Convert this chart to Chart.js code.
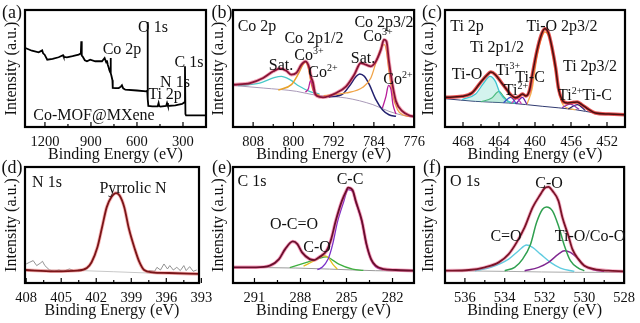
<!DOCTYPE html>
<html>
<head>
<meta charset="utf-8">
<script src="https://cdn.jsdelivr.net/npm/chart.js@4.4.1/dist/chart.umd.min.js"></script>
<style>
  body { margin: 0; width: 640px; height: 323px; background: #fff; position: relative; overflow: hidden; font-family: "Liberation Serif", serif; }
  canvas { position: absolute; }
  .lb { position: absolute; font-size: 16px; line-height: 1; white-space: nowrap; color: #111; transform: translate(-50%, -50%); }
  .lb sup { font-size: 10px; vertical-align: 6px; line-height: 0; }
  .pn { font-size: 18px; }
</style>
</head>
<body>
<script>
// ---- data: [binding energy (eV), intensity (a.u., 0-100 of frame)] ----
// (a) survey
const surveyA = [[1328,67.5],[1285,65.2],[1241,63.8],[1218,65.5],[1212,63],[1202,61.8],[1185,57.5],[1150,58.2],[1111,59.6],
  [1082,61.3],[1078,60],[1057,59.6],[1020,60.5],[980,61.8],[966,63],[963,73.2],[960,61],[955,60.4],[940,57],[926,56.2],
  [905,57.5],[872,56.2],[828,56.2],[811,59],[800,55],[796,57],[790,53],[785,51],[781,49],[775,47],[772,46],[771,59],
  [770,46],[767,44],[760,40],[758,33.5],[740,33.3],[719,33.3],[705,34.5],[698,35.6],[690,33],[676,31.9],[600,31.2],
  [540,30.5],[533,31],[531,89.7],[529,24],[526,18],[500,17.7],[465,17.7],[459,20.5],[455,18],[448,17.5],[410,18],
  [404,20.5],[398,18],[350,18.5],[306,19.7],[292,21],[287,51.9],[284,11],[280,10],[150,10]];

// (b) Co 2p
const coEnv = [[812,36.2],[808.6,37.6],[806,41.9],[804,47.6],[802.7,49.9],[801.4,48.1],[800.4,44.7],[799.4,46.2],[798.4,53.3],
  [797.6,56.1],[796.8,50],[796.5,43],[796.1,38],[795.7,29],[795.3,26.5],[794.1,25.4],[791.5,29.1],[789.5,34.8],[787.9,44.7],
  [786.6,54.7],[785.6,53.3],[784.6,51.9],[783.6,56.1],[782.6,66.1],[782,74.6],[781.5,73.2],[781,56.1],[780.3,36.2],
  [779.6,21.9],[778.3,13.4],[777,10],[776,9]];
const coBg = [[812,35.5],[806,33.3],[799.4,30.5],[795.5,27.1],[789.5,24.8],[784.2,19.1],[781,13.4],[778.3,10],[776,8.3]];
const coSat1 = [[811,35.3],[806.7,37.6],[804,41.9],[802.4,43.3],[800.7,40.5],[798.8,34.8],[796.8,30.5],[794.8,28.2]];
const co3Half = [[803,31.5],[800.4,36.2],[799.1,44.7],[798.1,53.3],[797.6,55.3],[797,50.4],[796.4,36.2],[795.8,29.1],[794.8,27.1]];
const co2Half = [[797.6,29.8],[797,33],[796.6,39.6],[796.2,35],[795.8,28.2],[795.4,27.5]];
const co3Main = [[794,26.8],[789.5,29.1],[786.2,33.9],[784.6,41.9],[783.3,59],[782.4,68.9],[781.9,70.4],[781.5,64.7],
  [781,47.6],[780.3,27.6],[779.3,14.8],[778.3,10.5],[777,9]];
const coSat2 = [[793,25.5],[790.2,28.2],[788.9,34.8],[787.5,43.3],[786.8,45.3],[785.9,43.3],[784.9,36.2],[783.6,23.4],
  [782.3,14.8],[781,10.5],[779.6,9.1]];
const co2Main = [[782.3,16.2],[781.6,26.2],[781.1,35.6],[780.6,31.9],[780.2,19.1],[779.6,11.1]];

// (c) Ti 2p
const tiEnv = [[470,25.4],[468.1,26.2],[467,29.1],[466.1,37.6],[465.3,44.7],[464.9,47],[464.4,44.7],[463.7,37.6],[463,30.5],
  [462.7,27.5],[462.2,25],[461.8,26],[461.4,28.2],[461,26.5],[460.6,31.6],[460.3,44.7],[459.8,64.7],[459.3,78.9],[458.9,84],
  [458.5,80.3],[458.1,67.5],[457.7,50.4],[457.4,33.3],[457,23.4],[456.4,20.5],[455.7,21.1],[455.3,21.4],[454.8,19.1],
  [454,14.8],[453.3,12],[451.8,11.1],[450,10.5]];
const tiBg = [[470,24.2],[466.6,21.9],[462.9,20.5],[459.2,17.7],[455.5,14.8],[453.3,12],[450,10.5]];
const tiO1 = [[468.1,23.4],[466.6,28.2],[465.7,37.6],[465,43.3],[464.4,39],[463.9,29.1],[463.1,22.5],[462.2,20.4]];
const tiO2 = [[466,21.6],[464.8,24.8],[464,30.5],[463.5,26.2],[462.9,21.4],[462.3,20.3]];
const ti3 = [[463.5,20.8],[462.7,25.4],[462.1,20.4]];
const ti2 = [[462.6,20.3],[462,24.5],[461.5,19.8]];
const tiC = [[462.1,19.8],[461.4,25.4],[460.9,19.3]];
const tiOMain = [[460.9,19.1],[460.3,33.3],[459.8,59],[459.2,77.5],[458.9,81.2],[458.4,76.1],[457.9,56.1],[457.4,33.3],
  [457,20.5],[456.4,16.2],[455.5,14.8]];
const ti2b = [[457,16.5],[456.1,19.5],[455.1,15.2]];
const tiCb = [[456.3,15.5],[455.3,19.1],[454.4,14]];

// (d) N 1s
const nRawL = [[408,16.4],[407.7,17.9],[407.4,19.3],[407.1,15],[406.8,17],[406.6,18.7],[406.4,15],[406,11.2],[405.6,10.1],
  [405.2,11.2],[404.8,10.1],[404.3,12.1],[403.9,10.7],[403.5,11.2]];
const nRawR = [[397.5,10.7],[397,10.1],[396.8,13.5],[396.5,11.2],[396.2,16.4],[395.9,12.1],[395.7,15],[395.4,11.2],
  [395.1,13.5],[394.8,10.7],[394.5,15],[394.3,10.7],[394,14.1],[393.7,10.1],[393.4,11.2]];
const nFit = [[408.1,11.2],[405.6,10.1],[403.6,10.7],[402.8,13],[402.4,17.9],[401.9,30.8],[401.5,48.1],[401.1,65.4],
  [400.7,74.1],[400.3,77.5],[400,75.5],[399.6,65.4],[399.2,46.7],[398.7,29.4],[398.3,17.9],[397.9,11.2],[397.2,9.2],
  [395.8,8.6],[393.2,7.8]];
const nBg = [[408.1,11.2],[403.6,10.8],[397.5,8.6],[393.2,7.8]];

// (e) C 1s
const cEnv = [[292.4,13.5],[290.9,13.5],[290,14.9],[289.4,20.6],[289,29.2],[288.5,35.8],[288.2,33.5],[287.9,26.4],
  [287.4,20.6],[287.1,19.8],[286.8,22.1],[286.3,27.8],[286,37.8],[285.7,53.6],[285.3,70.8],[285,79.9],[284.9,82.2],
  [284.6,79.9],[284.4,70.8],[284,53.6],[283.7,33.5],[283.4,20.6],[283.1,14.9],[282.6,12],[281.8,11.2],[280.6,10.6]];
const cBg = [[292.4,13.5],[288.3,12.9],[286.1,12],[283.1,10.6],[280.6,10.3]];
const cCO = [[288.7,13.2],[287.6,17.8],[286.9,20.6],[286.3,22.6],[286,20.6],[285.5,16.3],[284.6,12],[283.9,10.8]];
const cCOy = [[287.8,14.5],[287.1,19.2],[286.5,23.5],[286.2,22.1],[285.9,16.3],[285.6,12]];
const cCC = [[286.9,11.5],[286.6,13.5],[286.2,20.6],[285.9,33.5],[285.6,52.1],[285.2,69.3],[284.9,80.5],[284.6,79],
  [284.4,70],[284,53],[283.7,33],[283.4,20],[283.1,14],[282.6,11.5]];

// (f) O 1s
const oEnv = [[537,10.6],[535.8,11.2],[535,13.5],[534.3,17.8],[533.8,24.9],[533.4,35],[533,47.9],[532.6,65],[532.2,76.5],
  [532,81.7],[531.8,82.8],[531.6,79.4],[531.3,70.8],[531.1,56.4],[530.8,40.7],[530.6,29.2],[530.3,20.6],[530,14.9],
  [529.5,12],[528.8,10.6],[528,10]];
const oBg = [[537,10.6],[533.8,10],[530.5,9.2],[528,9.2]];
const oCO = [[534,10.6],[533.5,13.5],[533.1,20.6],[532.7,33.5],[532.4,52.1],[532.1,63.6],[531.9,65.6],[531.6,62.2],
  [531.3,49.3],[531,32.1],[530.7,19.2],[530.3,12.9],[530,10.6]];
const oCdO = [[535.5,10.6],[534.7,13.5],[533.8,20.6],[533.3,27.8],[532.9,32.7],[532.6,30.7],[532.2,24.9],[531.7,17.8],
  [531.2,12.9],[530.5,10]];
const oTiO = [[533,10.6],[532.3,13.5],[531.8,17.8],[531.3,24.9],[531,27.8],[530.7,26.4],[530.3,20.6],[530,14.9],
  [529.5,11.2],[529,10]];

// ---- axes ----
const ticksA = [1200, 900, 600, 300], minorA = [1050, 750, 450];
const ticksB = [808, 800, 792, 784, 776], minorB = [804, 796, 788, 780];
const ticksC = [468, 464, 460, 456, 452], minorC = [466, 462, 458, 454];
const ticksD = [408, 405, 402, 399, 396, 393], minorD = [406.5, 403.5, 400.5, 397.5, 394.5];
const ticksE = [291, 288, 285, 282], minorE = [289.5, 286.5, 283.5];
const ticksF = [536, 534, 532, 530, 528], minorF = [535, 533, 531, 529];

Chart.defaults.font.family = "Liberation Serif";
Chart.defaults.color = "#111";

const X_AXIS_H = 37;
const FONT_T = { family: "Liberation Serif", size: 16 };

const pts = (arr) => arr.map(([x, y]) => ({ x, y }));
function line(arr, color, width, extra = {}) {
  return Object.assign({
    data: pts(arr), borderColor: color, borderWidth: width, pointRadius: 0,
    fill: false, cubicInterpolationMode: "monotone"
  }, extra);
}

const framePlugin = (majors, minors) => ({
  id: "frame",
  afterDatasetsDraw(chart) {
    const { ctx, chartArea: a, scales: { x } } = chart;
    ctx.save();
    ctx.strokeStyle = "#000";
    ctx.lineWidth = 1.2;
    ctx.beginPath();
    for (const v of majors) { const p = x.getPixelForValue(v); ctx.moveTo(p, a.bottom); ctx.lineTo(p, a.bottom - 5); }
    for (const v of minors) { const p = x.getPixelForValue(v); ctx.moveTo(p, a.bottom); ctx.lineTo(p, a.bottom - 3); }
    ctx.stroke();
    ctx.lineWidth = 2.2;
    ctx.strokeRect(a.left, a.top, a.right - a.left, a.bottom - a.top);
    ctx.restore();
  }
});

function panel(g, xMin, xMax, majors, minors, datasets) {
  const padTop = 3, padRight = 16;
  const left = Math.round(g.ytx - 9.6);
  const w = g.frame[2] - left + padRight;
  const h = g.frame[3] - g.frame[1] + padTop + X_AXIS_H;
  const cv = document.createElement("canvas");
  cv.width = w; cv.height = h;
  cv.style.left = left + "px"; cv.style.top = (g.frame[1] - padTop) + "px";
  cv.style.width = w + "px"; cv.style.height = h + "px";
  document.body.appendChild(cv);
  new Chart(cv, {
    type: "line",
    data: { datasets },
    options: {
      responsive: false, animation: false, devicePixelRatio: 1,
      layout: { padding: { top: padTop, right: padRight, left: 0, bottom: 0 } },
      plugins: { legend: { display: false }, tooltip: { enabled: false } },
      scales: {
        x: {
          type: "linear", reverse: true, min: xMin, max: xMax,
          afterBuildTicks: (s) => { s.ticks = majors.map((v) => ({ value: v })); },
          ticks: { padding: 6, font: { size: 14.5 }, color: "#111", maxRotation: 0, autoSkip: false, callback: (v) => String(v) },
          grid: { display: false, drawTicks: false }, border: { display: false },
          title: { display: true, text: "Binding Energy (eV)", font: FONT_T, color: "#111", padding: 0 },
          afterFit: (s) => { s.height = X_AXIS_H; }
        },
        y: {
          min: 0, max: 100,
          ticks: { display: false }, grid: { display: false, drawTicks: false }, border: { display: false },
          title: { display: true, text: "Intensity (a.u.)", font: FONT_T, color: "#111", padding: 0 },
          afterFit: (s) => { s.width = g.frame[0] - left; }
        }
      }
    },
    plugins: [framePlugin(majors, minors)]
  });
}

// (a)
panel({ frame: [25, 10, 206, 127], ytx: 12 }, 150, 1330, ticksA, minorA, [
  line(surveyA, "#000", 1.8, { cubicInterpolationMode: "default", tension: 0 })
]);

// (b)
panel({ frame: [233, 10, 415, 127], ytx: 219 }, 776, 812, ticksB, minorB, [
  line(coEnv, "#861436", 1.8),
  line(coEnv, "rgba(236,70,110,0.5)", 3.5),
  line(co2Half, "#b81e9a", 1.3),
  line(co2Main, "#b81e9a", 1.3),
  line(co3Half, "#e8a22a", 1.5),
  line(co3Main, "#f0a448", 1.3),
  line(coSat2, "#22206e", 1.5),
  line(coSat1, "#48c8c8", 1.3, { fill: 7, backgroundColor: "rgba(110,220,180,0.4)" }),
  line(coBg, "#a99ab8", 1)
]);

// (c)
panel({ frame: [445, 10, 625, 127], ytx: 429 }, 450, 470, ticksC, minorC, [
  line(tiEnv, "#4a1010", 1.5),
  line(tiEnv, "rgba(225,40,40,0.8)", 3.5),
  line(ti3, "#3a50c8", 1.2),
  line(ti2, "#d040b0", 1.2),
  line(tiC, "#6a20a8", 1.3),
  line(ti2b, "#8a30b0", 1.2),
  line(tiCb, "#22206e", 1.2),
  line(tiOMain, "#f5b050", 1.3),
  line(tiO1, "#40c4d0", 1.3, { fill: 10, backgroundColor: "rgba(110,215,200,0.3)" }),
  line(tiO2, "#40b060", 1.2, { fill: 10, backgroundColor: "rgba(130,210,150,0.25)" }),
  line(tiBg, "#303a70", 1)
]);

// (d)
panel({ frame: [25, 167, 202, 283], ytx: 12 }, 393.2, 408.1, ticksD, minorD, [
  line(nFit, "#7a1518", 1.8),
  line(nFit, "rgba(240,110,110,0.5)", 3.5),
  line(nRawL, "#777", 0.8, { cubicInterpolationMode: "default", tension: 0 }),
  line(nRawR, "#777", 0.8, { cubicInterpolationMode: "default", tension: 0 }),
  line(nBg, "#c8c8c8", 1)
]);

// (e)
panel({ frame: [233, 167, 414, 283], ytx: 219 }, 280.6, 292.4, ticksE, minorE, [
  line(cEnv, "#6a0f2c", 1.8),
  line(cEnv, "rgba(240,80,140,0.55)", 3.5),
  line(cCC, "#7a30c8", 1.3),
  line(cCOy, "#e2c020", 1.3),
  line(cCO, "#40b040", 1.3),
  line(cBg, "#999", 1)
]);

// (f)
panel({ frame: [445, 167, 625, 283], ytx: 429 }, 528, 537, ticksF, minorF, [
  line(oEnv, "#7a1428", 1.8),
  line(oEnv, "rgba(240,90,140,0.45)", 3.5),
  line(oCO, "#30a050", 1.5),
  line(oTiO, "#802890", 1.4),
  line(oCdO, "#60cce0", 1.4),
  line(oBg, "#aaa", 1)
]);

// ---- labels ----
const labels = [
  ["(a)", 12, 12, "pn"], ["(b)", 222, 12, "pn"], ["(c)", 432, 12, "pn"],
  ["(d)", 12, 167, "pn"], ["(e)", 222, 167, "pn"], ["(f)", 432, 167, "pn"],
  ["O 1s", 153, 27], ["Co 2p", 122, 49], ["C 1s", 189, 62], ["N 1s", 175, 82], ["Ti 2p", 165, 94], ["Co-MOF@MXene", 94, 115],
  ["Co 2p", 257, 26], ["Co 2p1/2", 314, 38], ["Sat.", 281, 65], ["Co<sup>3+</sup>", 309, 55], ["Co<sup>2+</sup>", 323, 72],
  ["Co 2p3/2", 384, 22], ["Co<sup>3+</sup>", 378, 36], ["Sat.", 363, 58], ["Co<sup>2+</sup>", 398, 79],
  ["Ti 2p", 467, 26], ["Ti-O 2p3/2", 562, 26], ["Ti 2p1/2", 497, 47], ["Ti 2p3/2", 590, 66], ["Ti-O", 467, 74],
  ["Ti<sup>3+</sup>", 508, 70], ["Ti-C", 530, 77], ["Ti<sup>2+</sup>", 516, 90], ["Ti<sup>2+</sup>Ti-C", 585, 95],
  ["N 1s", 47, 182], ["Pyrrolic N", 133, 188],
  ["C 1s", 252, 181], ["C-C", 350, 179], ["O-C=O", 294, 224], ["C-O", 317, 247],
  ["O 1s", 465, 181], ["C-O", 549, 183], ["C=O", 506, 236], ["Ti-O/Co-O", 590, 236]
];
for (const [t, x, y, cls] of labels) {
  const d = document.createElement("div");
  d.className = "lb" + (cls ? " " + cls : "");
  d.innerHTML = t;
  d.style.left = x + "px"; d.style.top = y + "px";
  document.body.appendChild(d);
}
</script>
</body>
</html>
